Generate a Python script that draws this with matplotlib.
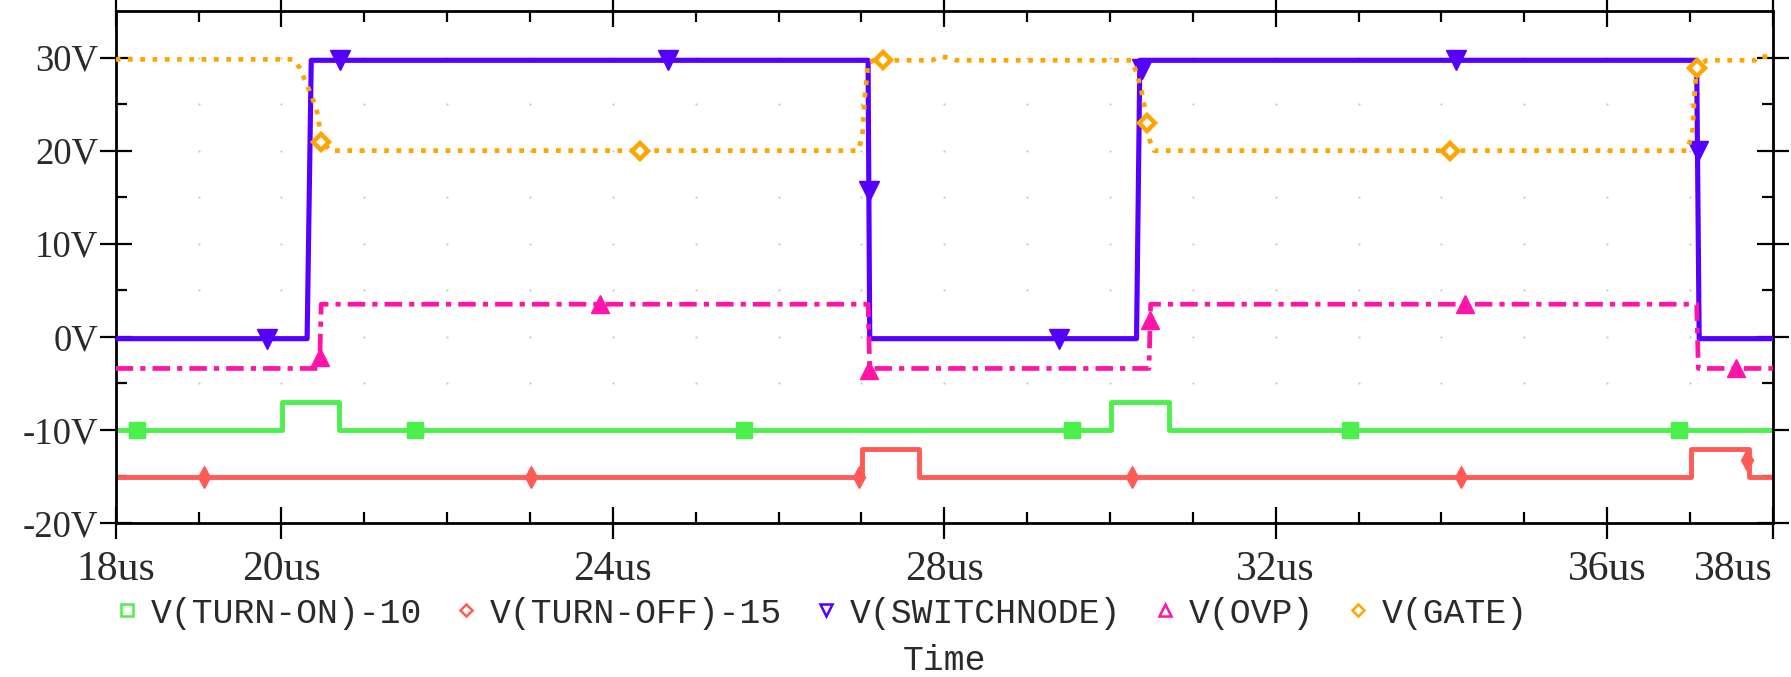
import numpy as np
import matplotlib
matplotlib.use("Agg")
import matplotlib.pyplot as plt
from matplotlib.lines import Line2D

# ---------------- data (time in us, voltage in V) ----------------
t_on = [18, 20.01, 20.01, 20.70, 20.70, 30.01, 30.01, 30.71, 30.71, 38]
v_on = [-10, -10, -7, -7, -10, -10, -7, -7, -10, -10]
on_mk_t = [18.26, 21.61, 25.58, 29.54, 32.90, 36.87]
on_mk_v = [-10, -10, -10, -10, -10, -10]

t_off = [18, 27.01, 27.01, 27.70, 27.70, 37.01, 37.01, 37.71, 37.71, 38]
v_off = [-15.1, -15.1, -12, -12, -15.1, -15.1, -12, -12, -15.1, -15.1]
off_mk_t = [19.06, 23.01, 26.97, 30.26, 34.23, 37.69]
off_mk_v = [-15.1, -15.1, -15.1, -15.1, -15.1, -13.2]

t_sw = [18, 20.31, 20.36, 27.08, 27.10, 30.32, 30.36, 37.08, 37.11, 38]
v_sw = [-0.2, -0.2, 29.7, 29.7, -0.2, -0.2, 29.7, 29.7, -0.2, -0.2]
sw_mk_t = [19.82, 20.71, 24.66, 27.09, 29.39, 30.38, 34.17, 37.09]
sw_mk_v = [-0.2, 29.7, 29.7, 15.7, -0.2, 28.8, 29.7, 20.0]

t_ovp = [18, 20.46, 20.48, 27.08, 27.10, 30.47, 30.49, 37.08, 37.10, 38]
v_ovp = [-3.4, -3.4, 3.5, 3.5, -3.4, -3.4, 3.5, 3.5, -3.4, -3.4]
ovp_mk_t = [20.47, 23.85, 27.09, 30.48, 34.28, 37.55]
ovp_mk_v = [-2.2, 3.5, -3.6, 1.8, 3.5, -3.4]

t_gate = [18, 20.14, 20.22, 20.32, 20.42, 20.46, 20.50, 20.59,
          26.96, 27.01, 27.04, 27.08, 27.15, 27.85, 27.95, 28.05, 28.15,
          30.26, 30.32, 30.38, 30.42, 30.45, 30.48, 30.53,
          36.97, 37.03, 37.05, 37.08, 37.20, 37.78, 37.82, 38]
v_gate = [29.8, 29.8, 28.9, 26.8, 24.6, 22.6, 20.9, 20.0,
          20.0, 21.5, 25.7, 29.4, 29.7, 29.7, 30.1, 30.0, 29.7,
          29.7, 28.4, 26.4, 24.6, 23.0, 21.1, 20.0,
          20.0, 22.2, 25.5, 28.9, 29.7, 29.7, 30.1, 30.1]
gate_mk_t = [20.48, 24.33, 27.26, 30.45, 34.10, 37.08]
gate_mk_v = [20.9, 20.0, 29.7, 23.0, 20.0, 28.9]

x_major = [18, 20, 24, 28, 32, 36, 38]
x_labels = ["18us", "20us", "24us", "28us", "32us", "36us", "38us"]
y_major = [-20, -10, 0, 10, 20, 30]
y_labels = ["-20V", "-10V", "0V", "10V", "20V", "30V"]
series_names = ["V(TURN-ON)-10", "V(TURN-OFF)-15", "V(SWITCHNODE)", "V(OVP)", "V(GATE)"]

# ---------------- styling ----------------
C_ON = "#4CF04C"
C_OFF = "#FF5A55"
C_SW = "#5500FF"
C_OVP = "#FF14A8"
C_GATE = "#FFA500"
TXT = "#2a2a2a"

fig = plt.figure(figsize=(17.91, 6.77), dpi=100)
ax = fig.add_axes([0.0646, 0.2275, 0.9253, 0.7563])
ax.set_xlim(18, 38)
ax.set_ylim(-20, 35)

# faint dotted grid at tick intersections
gx, gy = np.meshgrid(np.arange(18, 38.01, 1), np.arange(-20, 34.9, 5))
ax.scatter(gx.ravel(), gy.ravel(), s=2.5, color="#c8c8c8", zorder=0, linewidths=0)

lw = 3.5
ax.plot(t_on, v_on, color=C_ON, lw=lw, zorder=2)
ax.plot(on_mk_t, on_mk_v, ls="none", marker="s", ms=12, color=C_ON, zorder=2)

ax.plot(t_off, v_off, color=C_OFF, lw=lw, zorder=2)
ax.plot(off_mk_t, off_mk_v, ls="none", marker="d", ms=11, color=C_OFF, zorder=2)

ax.plot(t_sw, v_sw, color=C_SW, lw=3.7, zorder=3)
ax.plot(sw_mk_t, sw_mk_v, ls="none", marker="v", ms=14, color=C_SW, zorder=3)

ax.plot(t_ovp, v_ovp, color=C_OVP, lw=3.4, zorder=4,
        linestyle=(0, (3.7, 1.5, 1.1, 1.5)), dash_capstyle="butt")
ax.plot(ovp_mk_t, ovp_mk_v, ls="none", marker="^", ms=13, color=C_OVP, zorder=4)

ax.plot(t_gate, v_gate, color=C_GATE, lw=3.4, zorder=5,
        linestyle=(0, (1.0, 1.6)), dash_capstyle="butt")
ax.plot(gate_mk_t, gate_mk_v, ls="none", marker="D", ms=8.5, mfc="white",
        mec=C_GATE, mew=3.2, zorder=5)

# ticks
ax.set_xticks(x_major)
ax.set_xticklabels(x_labels, fontfamily="Liberation Serif", fontsize=30, color=TXT)
xl = ax.get_xticklabels()
xl[-1].set_horizontalalignment("right")
xl[0].set_horizontalalignment("center")
ax.set_xticks(np.arange(18, 38.01, 1), minor=True)
ax.set_yticks(y_major)
ax.set_yticklabels(y_labels, fontfamily="Liberation Serif", fontsize=26.5, color=TXT)
ax.set_yticks(np.arange(-20, 34.9, 5), minor=True)
ax.tick_params(which="major", direction="inout", length=23, width=1.6,
               top=True, right=True, color="black")
ax.tick_params(which="minor", direction="in", length=8, width=1.6,
               top=True, right=True, color="black")
ax.tick_params(axis="x", which="major", pad=8)
ax.tick_params(axis="y", which="major", pad=1)
for s in ax.spines.values():
    s.set_linewidth(2.0)

# legend
handles = [
    Line2D([], [], ls="none", marker="s", ms=8, mfc="none", mec=C_ON, mew=1.8),
    Line2D([], [], ls="none", marker="D", ms=6.5, mfc="none", mec=C_OFF, mew=1.8),
    Line2D([], [], ls="none", marker="v", ms=9, mfc="none", mec=C_SW, mew=1.8),
    Line2D([], [], ls="none", marker="^", ms=9, mfc="none", mec=C_OVP, mew=1.8),
    Line2D([], [], ls="none", marker="D", ms=6.5, mfc="none", mec=C_GATE, mew=1.8),
]
leg = fig.legend(handles, series_names, loc="center left",
                 bbox_to_anchor=(0.065, 1 - 613 / 677), ncol=5, frameon=False,
                 prop={"family": "Liberation Mono", "size": 25},
                 handlelength=0.6, handletextpad=0.4, columnspacing=0.95,
                 borderpad=0, borderaxespad=0, labelcolor=TXT)

fig.text((115.7 + 1773) / 2 / 1791, 1 - 660 / 677, "Time", ha="center", va="center",
         fontfamily="Liberation Mono", fontsize=25, color=TXT)

fig.savefig("out.png", dpi=100)
